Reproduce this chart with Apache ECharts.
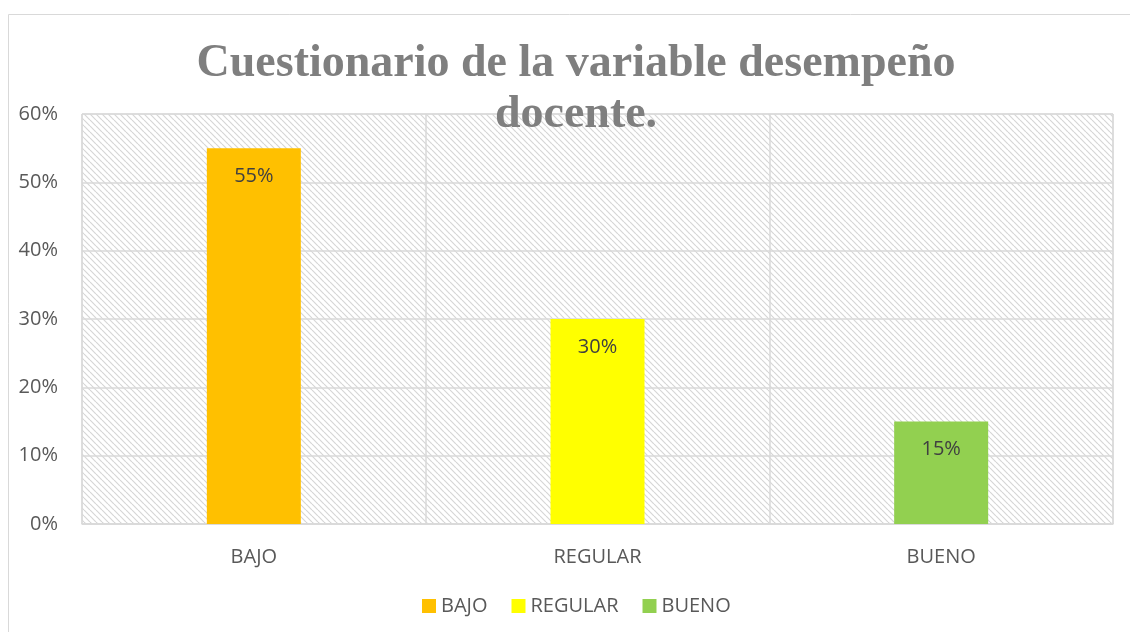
<!DOCTYPE html>
<html><head><meta charset="utf-8">
<script src="https://cdn.jsdelivr.net/npm/echarts@6/dist/echarts.min.js"></script>
<style>html,body{margin:0;padding:0;background:#fff}#c{width:1130px;height:632px}</style>
</head><body><div id="c"></div>
<script>
const categories = ['BAJO', 'REGULAR', 'BUENO'];
const values = [0.55, 0.30, 0.15];
const colors = ['#FFC000', '#FFFF00', '#92D050'];
const yTicks = [0, 0.1, 0.2, 0.3, 0.4, 0.5, 0.6];
const titleText = 'Cuestionario de la variable desempeño\ndocente.';

function makePattern() {
  const c = document.createElement('canvas');
  c.width = 6; c.height = 6;
  const g = c.getContext('2d');
  g.fillStyle = '#ffffff'; g.fillRect(0, 0, 6, 6);
  g.strokeStyle = '#d6d6d6'; g.lineWidth = 1.2;
  for (let k = -6; k <= 12; k += 6) {
    g.beginPath(); g.moveTo(k, 0); g.lineTo(k + 6, 6); g.stroke();
  }
  return c;
}

const chart = echarts.init(document.getElementById('c'));
const series = categories.map((name, i) => ({
  name: name,
  type: 'bar',
  stack: 'all',
  barWidth: 94,
  data: categories.map((_, j) => j === i ? values[i] : '-'),
  itemStyle: { color: colors[i] },
  label: {
    show: true, position: 'insideTop', distance: 18,
    formatter: p => Math.round(p.value * 100) + '%',
    color: '#404040', fontSize: 20, fontFamily: 'Open Sans'
  }
}));

chart.setOption({
  animation: false,
  title: {
    text: titleText, left: 571, textAlign: 'center', top: 34,
    textStyle: { fontFamily: 'Liberation Serif', fontWeight: 'bold', fontSize: 46, color: '#7F7F7F', lineHeight: 51 }
  },
  graphic: [{ type: 'rect', shape: { x: 8.5, y: 14.5, width: 1130, height: 640 }, style: { fill: 'none', stroke: '#D9D9D9', lineWidth: 1 }, z: -10 }],
  legend: {
    data: categories, top: 591, left: 417, itemWidth: 14, itemHeight: 14, itemGap: 24, icon: 'rect',
    textStyle: { fontFamily: 'Open Sans', fontSize: 20, color: '#595959' }
  },
  grid: {
    left: 82, right: 17, top: 114, bottom: 108, show: true,
    backgroundColor: { image: makePattern(), repeat: 'repeat' }, borderColor: '#D9D9D9', borderWidth: 1
  },
  xAxis: {
    type: 'category', data: categories,
    axisLine: { lineStyle: { color: '#D9D9D9', width: 1.5 } }, axisTick: { show: false },
    splitLine: { show: true, lineStyle: { color: '#D9D9D9', width: 1.5 } },
    axisLabel: { color: '#595959', fontSize: 20, fontFamily: 'Open Sans', margin: 23 }
  },
  yAxis: {
    type: 'value', min: 0, max: 0.6, interval: 0.1,
    axisLine: { show: false }, axisTick: { show: false },
    splitLine: { lineStyle: { color: '#D9D9D9', width: 1.5 } },
    axisLabel: { color: '#595959', fontSize: 20, fontFamily: 'Open Sans', margin: 24,
      formatter: v => Math.round(v * 100) + '%' }
  },
  series: series
});
</script></body></html>
